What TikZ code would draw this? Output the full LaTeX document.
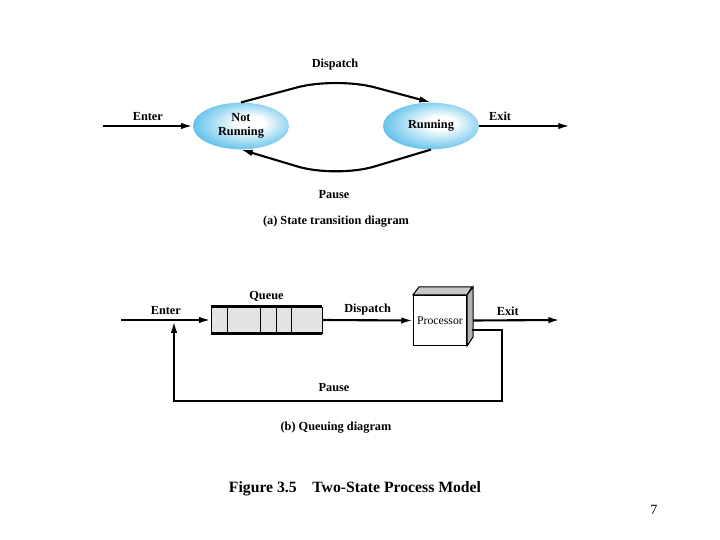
\documentclass[tikz,border=0pt]{standalone}
\usepackage{fontspec}
\setmainfont{Liberation Serif}
\usetikzlibrary{arrows.meta, shapes.geometric}
\definecolor{stateblue}{RGB}{38,170,226}
\pgfdeclareradialshading{stateshade}{\pgfpoint{6bp}{4bp}}{color(0bp)=(white); color(7bp)=(white); color(36bp)=(stateblue); color(50bp)=(stateblue)}

\begin{document}
\begin{tikzpicture}[
		x=0.03cm,
		y=-0.03cm,
		font=\fontsize{10.5}{12.5}\selectfont\bfseries,
		flow/.style={-{Latex[length=10pt,width=5.5pt]}, line width=1.8pt},
		state/.style={ellipse, shading=stateshade, inner sep=0pt, align=center,
			minimum width=2.88cm, minimum height=1.4cm},
		queuebox/.style={draw, fill=gray!22, minimum width=3.33cm, minimum height=0.78cm, inner sep=0pt},
		procbox/.style={draw, fill=white, line width=0.9pt, minimum width=1.59cm, minimum height=1.5cm,
			inner sep=0pt, font=\fontsize{10}{12}\selectfont\mdseries}
		]
		\useasboundingbox (0,0) rectangle (720,540);
		
		% (a) State transition diagram
		\node[state] (notrun) at (241,126) {Not\\Running};
		\node[state] (run) at (431,126) {Running};
		\coordinate (enterA) at (103,126);
		\coordinate (exitA) at (570,126);
		\coordinate (topA) at (336,77);
		\coordinate (botA) at (336,178);
		
		\draw[flow] (enterA) -- node[above] (enterlabelA) {Enter} (notrun);
		\draw[flow] (run) -- node[pos=0.23, above] (exitlabelA) {Exit} (exitA);
		\draw[flow, rounded corners=34pt] (notrun.north) -- (topA) -- (run.north);
		\draw[flow, rounded corners=34pt] (run.south) -- (botA) -- (notrun.south);
		\node (dispatchA) at (335,65) {Dispatch};
		\node (pauseA) at (334,195) {Pause};
		\node (captionA) at (336,222) {(a) State transition diagram};
		
		% (b) Queuing diagram
		\node[queuebox] (queue) at (266.5,320) {};
		\draw[line width=2.6pt] (queue.north west) -- (queue.north east);
		\draw[line width=2.6pt] (queue.south west) -- (queue.south east);
		\foreach \d in {16,49,65,80}
			\draw ([xshift=\d*0.03cm]queue.north west) -- ([xshift=\d*0.03cm]queue.south west);
		\node[above=1pt] (queuelabel) at (queue.north) {Queue};
		
		\node[procbox] (proc) at (440,320.5) {Processor};
		\draw[fill=gray!45, line width=0.9pt] (proc.north west) -- ++(6,-8) -- ++(53,0) -- (proc.north east) -- cycle;
		\draw[fill=gray!60, line width=0.9pt] (proc.north east) -- ++(6,-8) -- ++(0,50) -- (proc.south east) -- cycle;
		\coordinate (procR) at ([xshift=0.18cm]proc.east);
		\coordinate (procP) at (472,330);
		\coordinate (enterB) at (121,320);
		\coordinate (exitB) at (560,320);
		\coordinate (joinB) at (174,320);
		
		\draw[flow] (enterB) -- node[above] (enterlabelB) {Enter} (queue.west);
		\draw[flow] (queue.east) -- node[above] (dispatchB) {Dispatch} (proc.west);
		\draw[flow] (procR) -- node[pos=0.4, above] (exitlabelB) {Exit} (exitB);
		\draw[flow, shorten >=0.9pt] (procP) -| (502,401) -| (joinB);
		\node (pauseB) at (334,388) {Pause};
		\node (captionB) at (336,428) {(b) Queuing diagram};
		
		% Figure caption and page number
		\node[font=\fontsize{13.4}{15}\selectfont\bfseries] (figcaption) at (355,489) {Figure 3.5\quad Two-State Process Model};
		\node[font=\fontsize{12}{14}\selectfont\mdseries] (pagenum) at (654,510) {7};
	\end{tikzpicture}
\end{document}
